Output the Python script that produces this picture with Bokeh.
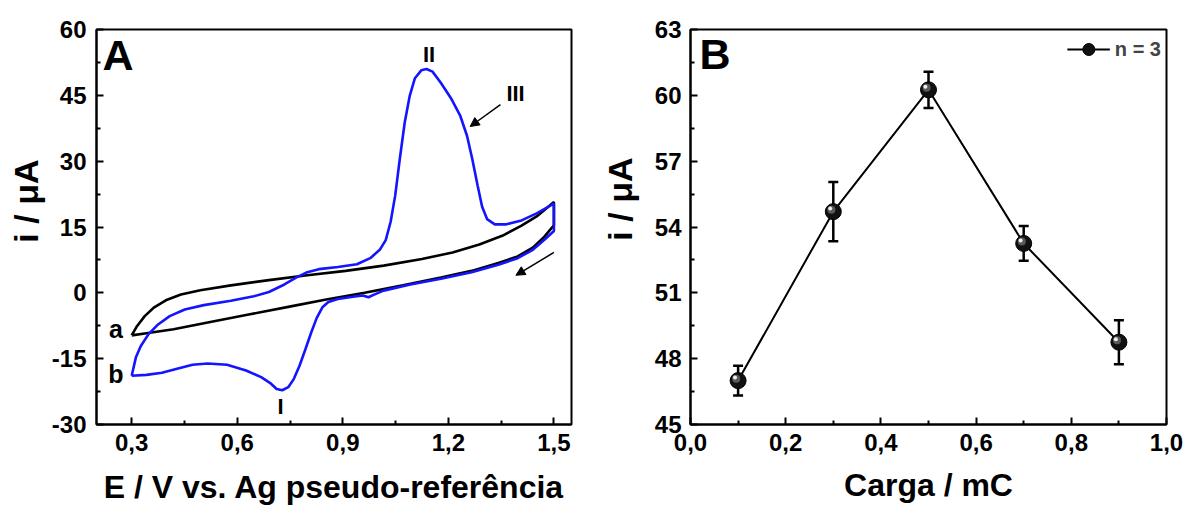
from bokeh.plotting import figure
from bokeh.models import (Range1d, FixedTicker, CustomJSTickFormatter, Label, Arrow, Title,
                          NormalHead, ColumnDataSource, Whisker, TeeHead, Legend, LegendItem)
from bokeh.layouts import row
from bokeh.transform import dodge
from bokeh.embed import file_html
from bokeh.resources import INLINE

FONT = "Liberation Sans"

# ---------------- Panel A data (cyclic voltammograms) ----------------
# curve b (blue): forward (anodic) branch then reverse branch
b_fwd_E = [0.300, 0.312, 0.326, 0.348, 0.375, 0.408, 0.451, 0.505, 0.582, 0.647, 0.690,
           0.734, 0.766, 0.799, 0.832, 0.886, 0.940, 0.978, 1.005, 1.022, 1.036, 1.049,
           1.062, 1.076, 1.090, 1.105, 1.123, 1.138, 1.155, 1.179, 1.207, 1.234, 1.253,
           1.268, 1.283, 1.296, 1.310, 1.332, 1.365, 1.408, 1.451, 1.500]
b_fwd_i = [-18.9, -14.7, -12.1, -9.4, -7.2, -5.3, -3.8, -2.8, -1.8, -0.8, 0.2,
           1.9, 3.4, 4.7, 5.4, 5.9, 6.5, 7.9, 9.8, 12.0, 16.2, 22.2,
           30.5, 38.8, 44.8, 48.9, 50.7, 51.0, 50.4, 47.8, 44.4, 40.3, 35.8,
           30.5, 24.5, 19.6, 16.8, 15.6, 15.6, 16.5, 18.1, 20.3]
b_rev_E = [1.500, 1.473, 1.440, 1.397, 1.342, 1.266, 1.179, 1.092, 1.016, 0.989, 0.973,
           0.957, 0.929, 0.886, 0.859, 0.842, 0.826, 0.810, 0.794, 0.777, 0.761, 0.745,
           0.728, 0.712, 0.696, 0.668, 0.625, 0.571, 0.516, 0.473, 0.429, 0.386, 0.342, 0.300]
b_rev_i = [14.1, 12.1, 9.8, 7.9, 6.4, 4.7, 3.2, 1.9, 0.5, -0.4, -1.0,
           -0.6, -0.9, -1.4, -2.1, -3.3, -5.7, -9.1, -12.8, -16.6, -19.6, -21.5,
           -22.2, -21.9, -20.7, -19.2, -17.7, -16.4, -16.1, -16.4, -17.3, -18.2, -18.7, -18.9]

# curve a (black)
a_fwd_E = [0.300, 0.315, 0.337, 0.364, 0.397, 0.440, 0.495, 0.582, 0.690, 0.799, 0.908,
           1.016, 1.125, 1.212, 1.288, 1.353, 1.408, 1.451, 1.500]
a_fwd_i = [-9.7, -7.6, -5.3, -3.3, -1.7, -0.4, 0.6, 1.7, 2.9, 4.0, 5.0,
           6.2, 7.7, 9.2, 11.0, 13.0, 15.3, 17.4, 20.7]
a_rev_E = [1.500, 1.473, 1.440, 1.397, 1.342, 1.266, 1.179, 1.071, 0.962, 0.853, 0.745,
           0.636, 0.527, 0.419, 0.342, 0.300]
a_rev_i = [15.4, 12.8, 10.3, 8.3, 6.8, 5.0, 3.5, 1.7, 0.0, -1.5, -3.2,
           -4.9, -6.6, -8.3, -9.2, -9.7]

xticks_A = [0.3, 0.6, 0.9, 1.2, 1.5]
xminor_A = [0.45, 0.75, 1.05, 1.35]
yticks_A = [-30, -15, 0, 15, 30, 45, 60]
yminor_A = [-22.5, -7.5, 7.5, 22.5, 37.5, 52.5]

# ---------------- Panel B data ----------------
charge = [0.1, 0.3, 0.5, 0.7, 0.9]
current = [47.0, 54.7, 60.25, 53.25, 48.75]
err = [0.68, 1.35, 0.83, 0.79, 1.0]
xticks_B = [0.0, 0.2, 0.4, 0.6, 0.8, 1.0]
xminor_B = [0.1, 0.3, 0.5, 0.7, 0.9]
yticks_B = [45, 48, 51, 54, 57, 60, 63]
yminor_B = [46.5, 49.5, 52.5, 55.5, 58.5, 61.5]

comma_fmt = CustomJSTickFormatter(code="return tick.toFixed(1).replace('.', ',');")
int_fmt = CustomJSTickFormatter(code="return tick.toFixed(0);")


def style(p, xt, xm, yt, ym, xstand, ystand, xlabel, xlab_stand):
    p.xaxis.ticker = FixedTicker(ticks=xt, minor_ticks=xm)
    p.yaxis.ticker = FixedTicker(ticks=yt, minor_ticks=ym)
    p.xaxis.formatter = comma_fmt
    p.yaxis.formatter = int_fmt
    p.xgrid.visible = False
    p.ygrid.visible = False
    for ax in (p.xaxis, p.yaxis):
        ax.axis_line_width = 2
        ax.axis_line_color = "black"
        ax.major_tick_in = 7
        ax.major_tick_out = 0
        ax.minor_tick_in = 4
        ax.minor_tick_out = 0
        ax.major_tick_line_width = 2
        ax.minor_tick_line_width = 2
        ax.major_tick_line_color = "black"
        ax.minor_tick_line_color = "black"
        ax.major_label_text_font = FONT
        ax.major_label_text_font_style = "bold"
        ax.major_label_text_font_size = "24px"
        ax.major_label_text_color = "black"
    p.xaxis.major_label_standoff = xstand
    p.yaxis.major_label_standoff = ystand
    p.xaxis.axis_label = xlabel
    p.xaxis.axis_label_text_font = FONT
    p.xaxis.axis_label_text_font_style = "bold"
    p.xaxis.axis_label_text_font_size = "32px"
    p.xaxis.axis_label_text_color = "black"
    p.xaxis.axis_label_standoff = xlab_stand
    p.outline_line_color = "black"
    p.outline_line_width = 2
    p.outline_line_alpha = 1.0
    p.background_fill_color = "white"
    p.border_fill_color = "white"


def ytitle(p, text, offset, standoff):
    p.add_layout(Title(text=text, align="right", offset=offset, vertical_align="bottom",
                       standoff=standoff, text_font=FONT, text_font_style="bold",
                       text_font_size="34px", text_color="black"), "left")


def label(p, x, y, text, size, align="center", baseline="middle"):
    p.add_layout(Label(x=x, y=y, text=text, text_font=FONT, text_font_style="bold",
                       text_font_size=size, text_align=align, text_baseline=baseline,
                       text_color="black"))


# ---------------- Figure A ----------------
pA = figure(width=585, height=508, output_backend="svg", toolbar_location=None,
            x_range=Range1d(0.2, 1.55), y_range=Range1d(-30, 60),
            min_border_left=94, min_border_right=14, min_border_top=27, min_border_bottom=84)
style(pA, xticks_A, xminor_A, yticks_A, yminor_A, 9, 10,
      "E / V vs. Ag pseudo-referência", 15)
ytitle(pA, "i / μA", 130, 8)

pA.line(a_fwd_E + a_rev_E, a_fwd_i + a_rev_i, line_color="black", line_width=2.6)
pA.line(b_fwd_E + b_rev_E, b_fwd_i + b_rev_i, line_color="#1414ff", line_width=2.6)

pA.add_layout(Arrow(end=NormalHead(size=9, fill_color="black", line_color="black"),
                    x_start=1.348, y_start=42.9, x_end=1.262, y_end=37.9,
                    line_width=1.5, line_color="black"))
pA.add_layout(Arrow(end=NormalHead(size=9, fill_color="black", line_color="black"),
                    x_start=1.500, y_start=9.2, x_end=1.392, y_end=4.0,
                    line_width=1.5, line_color="black"))

label(pA, 1.145, 54.4, "II", "22px")
label(pA, 1.391, 45.4, "III", "22px")
label(pA, 0.723, -25.9, "I", "22px")
label(pA, 0.2554, -8.3, "a", "25px")
label(pA, 0.2554, -18.5, "b", "25px")
label(pA, 0.217, 54.2, "A", "43px", align="left", baseline="middle")

# ---------------- Figure B ----------------
pB = figure(width=599, height=508, output_backend="svg", toolbar_location=None,
            x_range=Range1d(0.0, 1.0), y_range=Range1d(45, 63),
            min_border_left=104, min_border_right=18, min_border_top=29, min_border_bottom=82)
style(pB, xticks_B, xminor_B, yticks_B, yminor_B, 9, 9, "Carga / mC", 13)
ytitle(pB, "i / μA", 128, 26)

src = ColumnDataSource(dict(x=charge, y=current,
                            upper=[c + e for c, e in zip(current, err)],
                            lower=[c - e for c, e in zip(current, err)]))
pB.add_layout(Whisker(base="x", upper="upper", lower="lower", source=src,
                      line_width=2.5, line_color="black",
                      upper_head=TeeHead(size=10, line_width=2.5, line_color="black"),
                      lower_head=TeeHead(size=10, line_width=2.5, line_color="black")))
ln = pB.line("x", "y", source=src, line_color="black", line_width=2)
ball = pB.scatter("x", "y", source=src, size=16, fill_color="#111111", line_color="black")
shade = pB.scatter(dodge("x", -0.004, range=pB.x_range), dodge("y", 0.09, range=pB.y_range),
                   source=src, size=8, fill_color="#777777", line_color=None, fill_alpha=0.7)
hl = pB.scatter(dodge("x", -0.0065, range=pB.x_range), dodge("y", 0.14, range=pB.y_range),
                source=src, size=4, fill_color="#eeeeee", line_color=None)

leg = Legend(items=[LegendItem(label="n = 3", renderers=[ln, ball])],
             location="top_right", margin=5, padding=6, glyph_width=43, glyph_height=30,
             label_standoff=5, border_line_color=None, background_fill_alpha=0,
             label_text_font=FONT, label_text_font_style="bold", label_text_font_size="20px")
pB.add_layout(leg)

label(pB, 0.0189, 61.87, "B", "43px", align="left", baseline="middle")

layout = row(pA, pB)
open("out.html", "w").write(file_html(layout, INLINE))
